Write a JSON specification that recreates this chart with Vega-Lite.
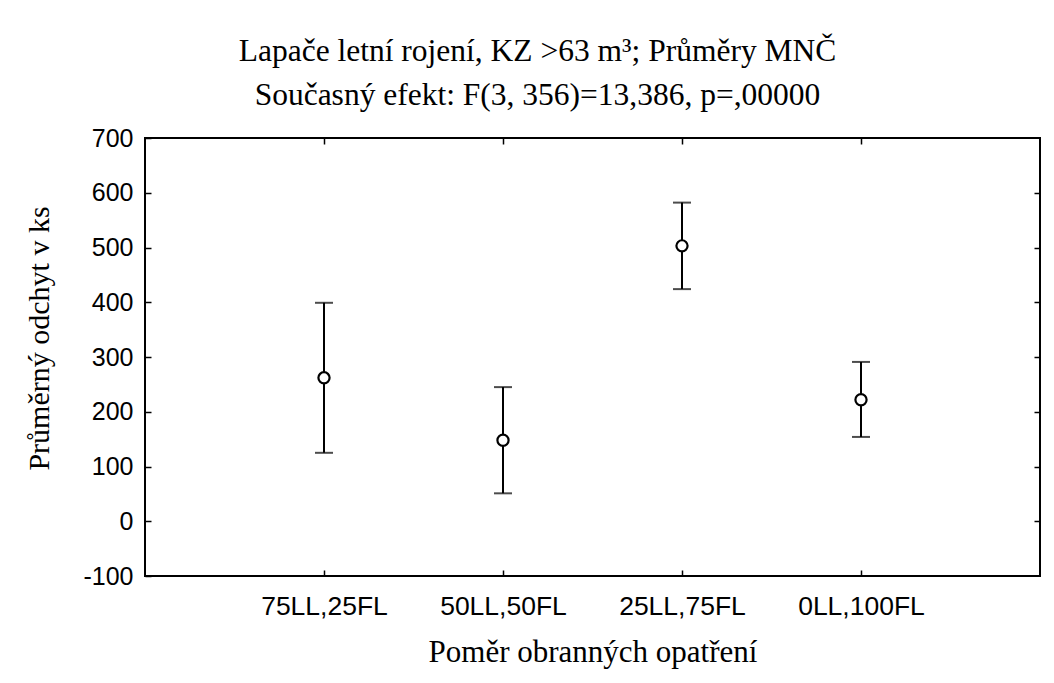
{
  "$schema": "https://vega.github.io/schema/vega-lite/v6.json",
  "width": 895,
  "height": 438,
  "autosize": "none",
  "padding": {"left": 145, "top": 138, "right": 14, "bottom": 107},
  "background": "white",
  "title": {
    "text": ["Lapače letní rojení, KZ >63 m³; Průměry MNČ", "Současný efekt: F(3, 356)=13,386, p=,00000"],
    "font": "Liberation Serif",
    "fontSize": 31.5,
    "fontWeight": "normal",
    "lineHeight": 44,
    "anchor": "middle",
    "frame": "group",
    "dx": -55,
    "offset": 15,
    "color": "#000"
  },
  "data": {
    "values": [
      {"ratio": "75LL,25FL", "mean": 262, "lo": 125, "hi": 399},
      {"ratio": "50LL,50FL", "mean": 148, "lo": 51, "hi": 245},
      {"ratio": "25LL,75FL", "mean": 503, "lo": 424, "hi": 582},
      {"ratio": "0LL,100FL", "mean": 222, "lo": 154, "hi": 291}
    ]
  },
  "layer": [
    {
      "mark": {"type": "rule", "color": "#000", "strokeWidth": 2},
      "encoding": {
        "x": {
          "field": "ratio", "type": "nominal", "sort": null,
          "scale": {"type": "point", "padding": 1},
          "axis": {
            "orient": "bottom", "title": "Poměr obranných opatření", "labelAngle": 0,
            "tickSize": -6, "labelPadding": 23, "titlePadding": 18, "labelFontSize": 26.5, "titleFontSize": 31
          }
        },
        "y": {
          "field": "lo", "type": "quantitative",
          "scale": {"domain": [-100, 700], "nice": false, "zero": false},
          "axis": {
            "orient": "left", "title": "Průměrný odchyt v ks", "values": [-100, 0, 100, 200, 300, 400, 500, 600, 700],
            "labelExpr": "'' + datum.value",
            "tickSize": -6, "labelPadding": 18, "titlePadding": 28, "grid": false, "titleY": 200
          }
        },
        "y2": {"field": "hi"}
      }
    },
    {
      "mark": {"type": "tick", "color": "#000", "size": 18, "thickness": 2, "orient": "horizontal"},
      "encoding": {
        "x": {"field": "ratio", "type": "nominal", "sort": null, "axis": null},
        "y": {"field": "lo", "type": "quantitative", "axis": null}
      }
    },
    {
      "mark": {"type": "tick", "color": "#000", "size": 18, "thickness": 2, "orient": "horizontal"},
      "encoding": {
        "x": {"field": "ratio", "type": "nominal", "sort": null, "axis": null},
        "y": {"field": "hi", "type": "quantitative", "axis": null}
      }
    },
    {
      "mark": {"type": "point", "shape": "circle", "filled": true, "fill": "white", "stroke": "#000", "strokeWidth": 2.2, "size": 125, "opacity": 1},
      "encoding": {
        "x": {"field": "ratio", "type": "nominal", "sort": null, "axis": null},
        "y": {"field": "mean", "type": "quantitative", "axis": null}
      }
    },
    {
      "mark": {"type": "point", "opacity": 0},
      "encoding": {
        "x": {
          "field": "ratio", "type": "nominal", "sort": null,
          "axis": {"orient": "top", "title": null, "labels": false, "tickSize": -6}
        },
        "y": {
          "field": "mean", "type": "quantitative",
          "axis": {"orient": "right", "title": null, "labels": false, "tickSize": -6, "values": [0, 100, 200, 300, 400, 500, 600], "grid": false}
        }
      }
    }
  ],
  "resolve": {"axis": {"x": "independent", "y": "independent"}},
  "config": {
    "view": {"stroke": "#000", "strokeWidth": 2},
    "axis": {
      "domain": false,
      "grid": false,
      "tickColor": "#000",
      "tickWidth": 1.5,
      "labelFont": "Liberation Sans",
      "labelFontSize": 25,
      "labelColor": "#000",
      "titleFont": "Liberation Serif",
      "titleFontSize": 30,
      "titleFontWeight": "normal",
      "titleColor": "#000"
    }
  }
}
